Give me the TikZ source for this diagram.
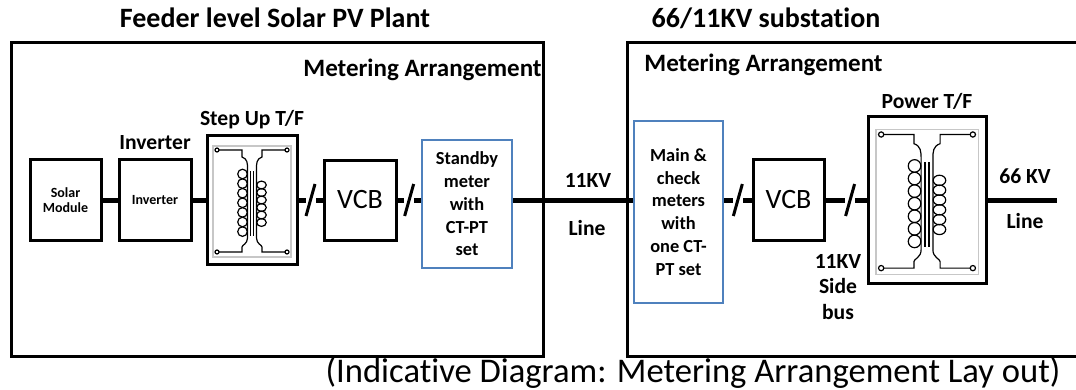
\documentclass[tikz,border=0pt]{standalone}
\usepackage{fontspec}
\setmainfont{Carlito}[Ligatures=NoCommon]
\usetikzlibrary{positioning}
\definecolor{meterblue}{RGB}{79,129,189}

\begin{document}
\begin{tikzpicture}[x=0.5pt, y=-0.5pt,
    box/.style = {draw, line width=1.5pt, inner sep=0pt, align=center},
    meter/.style = {draw=meterblue, line width=1.2pt, inner sep=0pt, align=center, font=\fontsize{9.2}{11.4}\selectfont\bfseries},
    lbl/.style = {inner sep=0pt, align=center, font=\fontsize{10.8}{12.8}\selectfont\bfseries},
    head/.style = {inner sep=0pt, font=\fontsize{14}{16}\selectfont\bfseries},
    bus/.style = {line width=2.5pt},
    frame/.style = {line width=1.5pt},
    brk/.pic = {
      \fill[white] (-5,-4) rectangle (5,4);
      \draw[line width=1.5pt] (-4.5,16) -- (4.5,-16);
    },
    winding/.pic = {
      \draw[black!22, line width=0.6pt] (-39,-54) rectangle (39,57);
      \begin{scope}[line width=0.6pt]
        \draw (-35,-50) circle[radius=2] (35,-50) circle[radius=2]
              (-35,52) circle[radius=2] (35,52) circle[radius=2];
        \draw (-33,-50) -- (-10,-50) -- (-10,-43) .. controls (-4.5,-41) and (-4.5,-37) .. (-4.5,-31)
              -- (-4.5,38) .. controls (-4.5,44) and (-10,45) .. (-10,47) -- (-10,52) -- (-33,52);
        \draw (33,-50) -- (10,-50) -- (10,-43) .. controls (4.5,-41) and (4.5,-37) .. (4.5,-31)
              -- (4.5,38) .. controls (4.5,44) and (10,45) .. (10,47) -- (10,52) -- (33,52);
        \draw (-1.5,-29) -- (-1.5,36) (1.5,-29) -- (1.5,36);
        \foreach \k in {0,...,6}
          \draw (-9.5,-26+9.6*\k) circle[radius=4.8];
        \foreach \k in {0,...,5}
          \draw (9.5,-15+7.5*\k) ellipse[x radius=4.8, y radius=3.9];
      \end{scope}
    }]
    \useasboundingbox (0,0) rectangle (1076,390);

    % outer frames
    \draw[frame] (11,43) rectangle (543,356);
    \draw[frame] (1076,43) -| (627,356) -- (1076,356);

    \node[head] (plant) at (275,18) {Feeder level Solar PV Plant};
    \node[head] (subst) at (766,18) {66/11KV substation};
    \node[head, font=\fontsize{12.5}{14}\selectfont\bfseries, anchor=base west] (meterA) at (303,77) {Metering Arrangement};
    \node[head, font=\fontsize{12.5}{14}\selectfont\bfseries, anchor=base west] (meterB) at (644,72) {Metering Arrangement};

    % plant side
    \node[box, minimum width=35.5pt, minimum height=40.5pt, font=\fontsize{7}{7.8}\selectfont\bfseries] (solar) at (65.5,200) {Solar\\Module};
    \node[box, minimum width=36pt, minimum height=40.5pt, font=\fontsize{7}{7.8}\selectfont\bfseries] (inv) at (155,200) {Inverter};
    \node[box, minimum width=45pt, minimum height=64pt] (stepup) at (252,200) {};
    \node[box, minimum width=36pt, minimum height=40pt, font=\fontsize{14}{16}\selectfont] (vcbA) at (360,200) {VCB};
    \node[meter, minimum width=45pt, minimum height=64pt] (standby) at (467,204) {Standby\\meter\\with\\CT-PT\\set};

    % substation side
    \node[meter, minimum width=44.5pt, minimum height=91pt] (main) at (678.5,212) {Main \&\\check\\meters\\with\\one CT-\\PT set};
    \node[box, minimum width=35.5pt, minimum height=40.5pt, font=\fontsize{14}{16}\selectfont] (vcbB) at (788.5,200) {VCB};
    \node[box, minimum width=59pt, minimum height=83.5pt] (power) at (927,200) {};
    \coordinate (out) at (1057,200);

    \pic at (stepup) {winding};
    \pic[scale=1.31] at (power) {winding};

    \draw[bus] (solar) -- (inv);
    \draw[bus] (inv) -- (stepup);
    \draw[bus] (stepup) -- coordinate (brk1) (vcbA);
    \draw[bus] (vcbA) -- coordinate (brk2) (vcbA -| standby.west);
    \draw[bus] (standby.east |- vcbA) -- (main.west |- vcbA);
    \draw[bus] (main.east |- vcbB) -- coordinate (brk3) (vcbB);
    \draw[bus] (vcbB) -- coordinate[pos=0.6] (brk4) (power);
    \draw[bus] (power) -- (out);
    \pic at (brk1) {brk};
    \pic at (brk2) {brk};
    \pic at (brk3) {brk};
    \pic at (brk4) {brk};

    % labels
    \node[lbl, above=3.8pt of inv] (invlbl) {Inverter};
    \node[lbl, above=2.4pt of stepup] (steplbl) {Step Up T/F};
    \node[lbl, above=2.8pt of power] (powlbl) {Power T/F};
    \node[lbl] (kvA) at (588,180) {11KV};
    \node[lbl] (lineA) at (587,228) {Line};
    \node[lbl] (kvB) at (1025,176) {66 KV};
    \node[lbl] (lineB) at (1025,221) {Line};
    \node[lbl] (sidebus) at (838,287) {11KV\\Side\\bus};

    \node[inner sep=0pt, anchor=base, font=\fontsize{17.3}{20}\selectfont] (note) at (693,382) {(Indicative Diagram: Metering Arrangement Lay out)};
\end{tikzpicture}
\end{document}
